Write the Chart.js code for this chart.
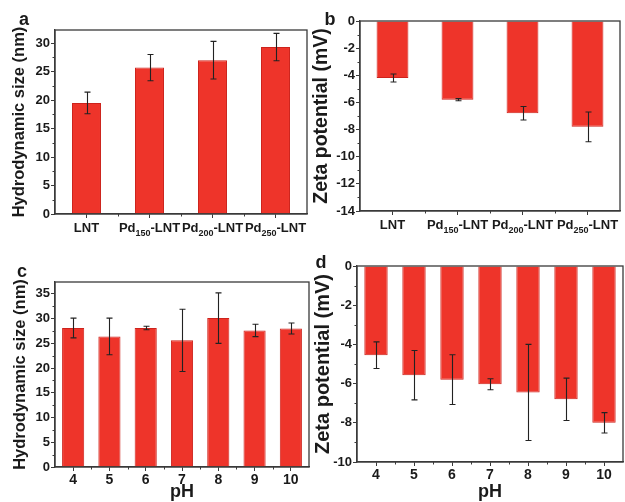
<!DOCTYPE html>
<html>
<head>
<meta charset="utf-8">
<script src="https://cdn.jsdelivr.net/npm/chart.js@4.4.1/dist/chart.umd.min.js"></script>
<style>
  body { margin: 0; background: #fff; }
  #wrap { position: relative; width: 625px; height: 502px; overflow: hidden; background: #fff; }
  canvas { position: absolute; }
</style>
</head>
<body>
<div id="wrap">
  <canvas id="chartA" style="left:0;top:0;width:312px;height:250px" width="312" height="250"></canvas>
  <canvas id="chartB" style="left:312px;top:0;width:313px;height:250px" width="313" height="250"></canvas>
  <canvas id="chartC" style="left:0;top:250px;width:312px;height:252px" width="312" height="252"></canvas>
  <canvas id="chartD" style="left:312px;top:250px;width:313px;height:252px" width="313" height="252"></canvas>
</div>
<script>
// data
const samples = ['LNT', 'Pd₁₅₀-LNT', 'Pd₂₀₀-LNT', 'Pd₂₅₀-LNT'];
const sizeBySample = [19.5, 25.7, 27.0, 29.3];
const sizeBySampleErr = [1.9, 2.3, 3.3, 2.4];
const zetaBySample = [-4.2, -5.8, -6.8, -7.8];
const zetaBySampleErr = [0.3, 0.08, 0.5, 1.1];

const phValues = ['4', '5', '6', '7', '8', '9', '10'];
const sizeByPh = [28.1, 26.4, 28.1, 25.6, 30.1, 27.6, 28.0];
const sizeByPhErr = [2.0, 3.7, 0.35, 6.3, 5.1, 1.25, 1.1];
const zetaByPh = [-4.55, -5.57, -5.8, -6.03, -6.45, -6.8, -8.0];
const zetaByPhErr = [0.68, 1.26, 1.27, 0.28, 2.45, 1.08, 0.52];

const FONT = "'Liberation Sans', Arial, sans-serif";
const RED = 'rgb(238,52,42)';
const EDGE = 'rgb(205,35,28)';
const AXIS = '#3a3a3a';
const INK = '#1a1a1a';
const SUBS = '₀₁₂₃₄₅₆₇₈₉';

// draws "Pd₁₅₀-LNT" with a real lowered subscript
function drawSubLabel(ctx, text, cx, baseY) {
  const parts = [];
  for (const ch of text) {
    const k = SUBS.indexOf(ch);
    const sub = k >= 0;
    const c = sub ? String(k) : ch;
    if (parts.length && parts[parts.length - 1].sub === sub) parts[parts.length - 1].t += c;
    else parts.push({ t: c, sub: sub });
  }
  const big = 'bold 13px ' + FONT, small = 'bold 9px ' + FONT;
  let total = 0;
  parts.forEach(p => { ctx.font = p.sub ? small : big; p.w = ctx.measureText(p.t).width; total += p.w; });
  let x = cx - total / 2;
  ctx.textAlign = 'left';
  ctx.textBaseline = 'alphabetic';
  parts.forEach(p => {
    ctx.font = p.sub ? small : big;
    ctx.fillText(p.t, x, p.sub ? baseY + 4 : baseY);
    x += p.w;
  });
}

// frame box, minor ticks, error bars, sample labels and the panel letter
const decor = {
  id: 'decor',
  afterDatasetsDraw(chart, args, opts) {
    const ctx = chart.ctx;
    const ys = chart.scales.y;
    const meta = chart.getDatasetMeta(0);
    const vals = chart.data.datasets[0].data;
    ctx.save();
    ctx.strokeStyle = '#222';
    ctx.lineWidth = 1.1;
    meta.data.forEach((bar, i) => {
      const y1 = ys.getPixelForValue(vals[i] + opts.err[i]);
      const y2 = ys.getPixelForValue(vals[i] - opts.err[i]);
      const x = Math.round(bar.x) + 0.5;
      ctx.beginPath();
      ctx.moveTo(x, y1); ctx.lineTo(x, y2);
      ctx.moveTo(x - 3, y1); ctx.lineTo(x + 3, y1);
      ctx.moveTo(x - 3, y2); ctx.lineTo(x + 3, y2);
      ctx.stroke();
    });
    ctx.restore();
  },
  afterDraw(chart, args, opts) {
    const ctx = chart.ctx;
    const a = chart.chartArea;
    const xs = chart.scales.x, ys = chart.scales.y;
    ctx.save();
    ctx.strokeStyle = AXIS;
    ctx.lineWidth = 1.3;
    ctx.strokeRect(a.left, a.top, a.right - a.left, a.bottom - a.top);
    ctx.lineWidth = 1;
    ctx.beginPath();
    const yt = ys.ticks;
    for (let i = 0; i + 1 < yt.length; i++) {
      const y = Math.round(ys.getPixelForValue((yt[i].value + yt[i + 1].value) / 2)) + 0.5;
      ctx.moveTo(a.left, y); ctx.lineTo(a.left - 2.5, y);
    }
    for (let i = 0; i + 1 < xs.ticks.length; i++) {
      const x = Math.round((xs.getPixelForTick(i) + xs.getPixelForTick(i + 1)) / 2) + 0.5;
      ctx.moveTo(x, a.bottom); ctx.lineTo(x, a.bottom + 2.5);
    }
    ctx.stroke();
    ctx.fillStyle = INK;
    if (opts.subLabels) {
      chart.data.labels.forEach((lab, i) => drawSubLabel(ctx, lab, xs.getPixelForTick(i), a.bottom + 18));
    }
    ctx.font = 'bold 18px ' + FONT;
    ctx.textAlign = 'center';
    ctx.textBaseline = 'alphabetic';
    ctx.fillText(opts.letter, opts.lx, opts.ly);
    ctx.restore();
  }
};

function panel(id, labels, values, errs, o) {
  const yW = o.left - o.padL;
  const xH = o.h - o.bottom;
  return new Chart(document.getElementById(id), {
    type: 'bar',
    data: {
      labels: labels,
      datasets: [{
        data: values,
        backgroundColor: RED,
        borderColor: EDGE,
        borderWidth: 1,
        barPercentage: o.barPct,
        categoryPercentage: 1
      }]
    },
    options: {
      responsive: false,
      animation: false,
      events: [],
      layout: { padding: { left: o.padL, top: o.top, right: o.w - o.right, bottom: 0 } },
      plugins: {
        legend: { display: false },
        tooltip: { enabled: false },
        decor: { err: errs, letter: o.letter, lx: o.lx, ly: o.ly, subLabels: !!o.subLabels }
      },
      scales: {
        x: {
          grid: { offset: false, drawOnChartArea: false, tickLength: 4, color: AXIS, tickWidth: 1 },
          border: { color: AXIS, width: 1.3 },
          ticks: {
            display: !o.subLabels,
            font: { family: FONT, size: 14, weight: 'bold' }, color: INK, padding: 1, maxRotation: 0, autoSkip: false
          },
          title: { display: !!o.xTitle, text: o.xTitle || '', color: INK, font: { family: FONT, size: 18, weight: 'bold', lineHeight: 1 }, padding: { top: 0, bottom: 1 } },
          afterFit: s => { s.height = xH; }
        },
        y: {
          min: o.min, max: o.max,
          grid: { drawOnChartArea: false, tickLength: 4, color: AXIS, tickWidth: 1 },
          border: { color: AXIS, width: 1.3 },
          ticks: { stepSize: o.step, includeBounds: false, font: { family: FONT, size: 13, weight: 'bold' }, color: INK, padding: 1 },
          title: { display: true, text: o.yTitle, color: INK, font: { family: FONT, size: o.tSize, weight: 'bold', lineHeight: 1 }, padding: { top: o.tPad, bottom: 0 } },
          afterFit: s => { s.width = yW; }
        }
      }
    },
    plugins: [decor]
  });
}

panel('chartA', samples, sizeBySample, sizeBySampleErr, {
  w: 312, h: 250, left: 55, right: 307, top: 30, bottom: 214, padL: 3, tPad: 8, tSize: 16.5,
  barPct: 0.46, min: 0, max: 32.3, step: 5, yTitle: 'Hydrodynamic size (nm)', subLabels: true,
  letter: 'a', lx: 24, ly: 25
});
panel('chartB', samples, zetaBySample, zetaBySampleErr, {
  w: 313, h: 250, left: 48, right: 308, top: 21, bottom: 211, padL: 0, tPad: 0, tSize: 19.5,
  barPct: 0.49, min: -14, max: 0, step: 2, yTitle: 'Zeta potential (mV)', subLabels: true,
  letter: 'b', lx: 18, ly: 25
});
panel('chartC', phValues, sizeByPh, sizeByPhErr, {
  w: 312, h: 252, left: 55, right: 309, top: 32, bottom: 217, padL: 3, tPad: 9, tSize: 16.5,
  barPct: 0.61, min: 0, max: 37.4, step: 5, yTitle: 'Hydrodynamic size (nm)', xTitle: 'pH',
  letter: 'c', lx: 22, ly: 27
});
panel('chartD', phValues, zetaByPh, zetaByPhErr, {
  w: 313, h: 252, left: 45, right: 311, top: 16, bottom: 212, padL: 0, tPad: 1, tSize: 20,
  barPct: 0.615, min: -10, max: 0, step: 2, yTitle: 'Zeta potential (mV)', xTitle: 'pH',
  letter: 'd', lx: 9, ly: 18
});
</script>
</body>
</html>
